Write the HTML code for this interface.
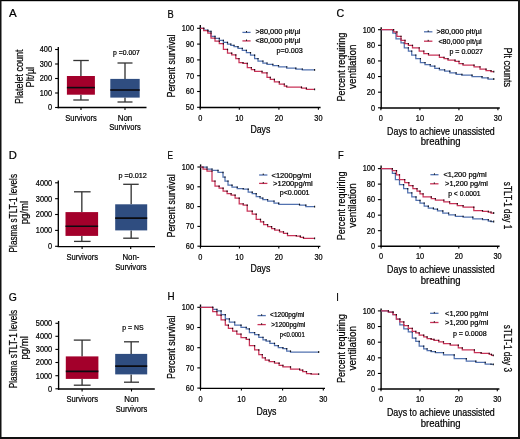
<!DOCTYPE html>
<html><head><meta charset="utf-8"><style>
html,body{margin:0;padding:0;background:#fff;width:520px;height:439px;overflow:hidden}
svg{display:block;font-family:"Liberation Sans",sans-serif}
text{stroke:#000;stroke-width:0.22px}
svg{filter:blur(0.25px)}
</style></head><body>
<svg width="520" height="439" viewBox="0 0 520 439" font-family="Liberation Sans, sans-serif">
<rect x="0" y="0" width="520" height="439" fill="#fff"/>
<text x="8.9" y="16.9" font-size="11.2" textLength="7.7" lengthAdjust="spacingAndGlyphs" fill="#000">A</text>
<text x="167.4" y="17.5" font-size="11.2" textLength="6.2" lengthAdjust="spacingAndGlyphs" fill="#000">B</text>
<text x="336.5" y="17.3" font-size="11.2" textLength="7.7" lengthAdjust="spacingAndGlyphs" fill="#000">C</text>
<text x="8.7" y="158.9" font-size="11.2" textLength="8.1" lengthAdjust="spacingAndGlyphs" fill="#000">D</text>
<text x="167.4" y="159.3" font-size="11.2" textLength="5.5" lengthAdjust="spacingAndGlyphs" fill="#000">E</text>
<text x="337.9" y="158.8" font-size="11.2" textLength="5.7" lengthAdjust="spacingAndGlyphs" fill="#000">F</text>
<text x="8.7" y="300.5" font-size="11.2" textLength="8.1" lengthAdjust="spacingAndGlyphs" fill="#000">G</text>
<text x="167.4" y="300" font-size="11.2" textLength="7.1" lengthAdjust="spacingAndGlyphs" fill="#000">H</text>
<text x="336.2" y="300.5" font-size="11.2" textLength="2.6" lengthAdjust="spacingAndGlyphs" fill="#000">I</text>
<line x1="58.3" y1="47" x2="58.3" y2="108.2" stroke="#000" stroke-width="1.35"/>
<line x1="55.1" y1="49.5" x2="58.3" y2="49.5" stroke="#000" stroke-width="1.1"/>
<text x="52" y="52.32" font-size="8.2" text-anchor="end" textLength="12.3" lengthAdjust="spacingAndGlyphs" fill="#000">400</text>
<line x1="55.1" y1="64" x2="58.3" y2="64" stroke="#000" stroke-width="1.1"/>
<text x="52" y="66.82" font-size="8.2" text-anchor="end" textLength="12.3" lengthAdjust="spacingAndGlyphs" fill="#000">300</text>
<line x1="55.1" y1="78.5" x2="58.3" y2="78.5" stroke="#000" stroke-width="1.1"/>
<text x="52" y="81.32" font-size="8.2" text-anchor="end" textLength="12.3" lengthAdjust="spacingAndGlyphs" fill="#000">200</text>
<line x1="55.1" y1="93" x2="58.3" y2="93" stroke="#000" stroke-width="1.1"/>
<text x="52" y="95.82" font-size="8.2" text-anchor="end" textLength="12.3" lengthAdjust="spacingAndGlyphs" fill="#000">100</text>
<line x1="55.1" y1="107.5" x2="58.3" y2="107.5" stroke="#000" stroke-width="1.1"/>
<text x="52" y="110.32" font-size="8.2" text-anchor="end" textLength="4.1" lengthAdjust="spacingAndGlyphs" fill="#000">0</text>
<line x1="57.6" y1="107.5" x2="146.5" y2="107.5" stroke="#000" stroke-width="1.35"/>
<line x1="81" y1="107.5" x2="81" y2="110" stroke="#000" stroke-width="1.1"/>
<line x1="125" y1="107.5" x2="125" y2="110" stroke="#000" stroke-width="1.1"/>
<line x1="80.9" y1="60.5" x2="80.9" y2="76" stroke="#555" stroke-width="1.6"/>
<line x1="80.9" y1="94.7" x2="80.9" y2="100" stroke="#555" stroke-width="1.6"/>
<line x1="73.3" y1="60.5" x2="88.8" y2="60.5" stroke="#333" stroke-width="1.3"/>
<line x1="73.3" y1="100" x2="88.8" y2="100" stroke="#333" stroke-width="1.3"/>
<rect x="66.9" y="76" width="28" height="18.7" fill="#a3002b"/>
<line x1="66.9" y1="87.6" x2="94.9" y2="87.6" stroke="#0b0b10" stroke-width="1.6"/>
<line x1="125" y1="63" x2="125" y2="78.9" stroke="#555" stroke-width="1.6"/>
<line x1="125" y1="97.6" x2="125" y2="102" stroke="#555" stroke-width="1.6"/>
<line x1="117.5" y1="63" x2="132.5" y2="63" stroke="#333" stroke-width="1.3"/>
<line x1="117.5" y1="102" x2="132.5" y2="102" stroke="#333" stroke-width="1.3"/>
<rect x="110.3" y="78.9" width="29.4" height="18.7" fill="#2f4d80"/>
<line x1="110.3" y1="90" x2="139.7" y2="90" stroke="#0b0b10" stroke-width="1.6"/>
<text x="113.1" y="55.11" font-size="7.3" textLength="26.8" lengthAdjust="spacingAndGlyphs" fill="#000">p =0.007</text>
<text x="81" y="120.6" font-size="8.6" text-anchor="middle" textLength="31.5" lengthAdjust="spacingAndGlyphs" fill="#000">Survivors</text>
<text x="125" y="120.6" font-size="8.6" text-anchor="middle" textLength="14.5" lengthAdjust="spacingAndGlyphs" fill="#000">Non</text>
<text x="125" y="130.2" font-size="8.6" text-anchor="middle" textLength="31.5" lengthAdjust="spacingAndGlyphs" fill="#000">Survivors</text>
<g transform="translate(19.4,76.7) rotate(-90)"><text x="0" y="3.61" font-size="10.5" text-anchor="middle" textLength="54.5" lengthAdjust="spacingAndGlyphs" fill="#000">Platelet count</text></g>
<g transform="translate(30,77.2) rotate(-90)"><text x="0" y="3.61" font-size="10.5" text-anchor="middle" textLength="20.5" lengthAdjust="spacingAndGlyphs" fill="#000">Plt/µl</text></g>
<line x1="58.3" y1="180.6" x2="58.3" y2="247.1" stroke="#000" stroke-width="1.35"/>
<line x1="55.1" y1="182.8" x2="58.3" y2="182.8" stroke="#000" stroke-width="1.1"/>
<text x="52.2" y="185.62" font-size="8.2" text-anchor="end" textLength="16.4" lengthAdjust="spacingAndGlyphs" fill="#000">4000</text>
<line x1="55.1" y1="198.7" x2="58.3" y2="198.7" stroke="#000" stroke-width="1.1"/>
<text x="52.2" y="201.52" font-size="8.2" text-anchor="end" textLength="16.4" lengthAdjust="spacingAndGlyphs" fill="#000">3000</text>
<line x1="55.1" y1="214.5" x2="58.3" y2="214.5" stroke="#000" stroke-width="1.1"/>
<text x="52.2" y="217.32" font-size="8.2" text-anchor="end" textLength="16.4" lengthAdjust="spacingAndGlyphs" fill="#000">2000</text>
<line x1="55.1" y1="230.4" x2="58.3" y2="230.4" stroke="#000" stroke-width="1.1"/>
<text x="52.2" y="233.22" font-size="8.2" text-anchor="end" textLength="16.4" lengthAdjust="spacingAndGlyphs" fill="#000">1000</text>
<line x1="55.1" y1="246.3" x2="58.3" y2="246.3" stroke="#000" stroke-width="1.1"/>
<text x="52.2" y="249.12" font-size="8.2" text-anchor="end" textLength="4.1" lengthAdjust="spacingAndGlyphs" fill="#000">0</text>
<line x1="57.6" y1="246.6" x2="155" y2="246.6" stroke="#000" stroke-width="1.35"/>
<line x1="82.1" y1="246.6" x2="82.1" y2="249.1" stroke="#000" stroke-width="1.1"/>
<line x1="130.7" y1="246.6" x2="130.7" y2="249.1" stroke="#000" stroke-width="1.1"/>
<line x1="81.8" y1="191.8" x2="81.8" y2="212.1" stroke="#555" stroke-width="1.6"/>
<line x1="81.8" y1="235.9" x2="81.8" y2="241.4" stroke="#555" stroke-width="1.6"/>
<line x1="74" y1="191.8" x2="90.6" y2="191.8" stroke="#333" stroke-width="1.3"/>
<line x1="74" y1="241.4" x2="90.6" y2="241.4" stroke="#333" stroke-width="1.3"/>
<rect x="65.5" y="212.1" width="32.6" height="23.8" fill="#a3002b"/>
<line x1="65.5" y1="226.2" x2="98.1" y2="226.2" stroke="#0b0b10" stroke-width="1.6"/>
<line x1="131.2" y1="184.3" x2="131.2" y2="204.3" stroke="#555" stroke-width="1.6"/>
<line x1="131.2" y1="230.4" x2="131.2" y2="238.2" stroke="#555" stroke-width="1.6"/>
<line x1="123.2" y1="184.3" x2="138.7" y2="184.3" stroke="#333" stroke-width="1.3"/>
<line x1="123.2" y1="238.2" x2="138.7" y2="238.2" stroke="#333" stroke-width="1.3"/>
<rect x="115.2" y="204.3" width="32" height="26.1" fill="#2f4d80"/>
<line x1="115.2" y1="218.1" x2="147.2" y2="218.1" stroke="#0b0b10" stroke-width="1.6"/>
<text x="118.5" y="178.01" font-size="7.3" textLength="28.4" lengthAdjust="spacingAndGlyphs" fill="#000">p =0.012</text>
<text x="82.3" y="259.8" font-size="8.6" text-anchor="middle" textLength="31.5" lengthAdjust="spacingAndGlyphs" fill="#000">Survivors</text>
<text x="130.9" y="259.8" font-size="8.6" text-anchor="middle" textLength="17" lengthAdjust="spacingAndGlyphs" fill="#000">Non-</text>
<text x="130.9" y="269.8" font-size="8.6" text-anchor="middle" textLength="31.5" lengthAdjust="spacingAndGlyphs" fill="#000">Survivors</text>
<g transform="translate(13.6,213.2) rotate(-90)"><text x="0" y="3.61" font-size="10.5" text-anchor="middle" textLength="78.5" lengthAdjust="spacingAndGlyphs" fill="#000">Plasma sTLT-1 levels</text></g>
<g transform="translate(24.7,212.6) rotate(-90)"><text x="0" y="3.61" font-size="10.5" text-anchor="middle" textLength="23.3" lengthAdjust="spacingAndGlyphs" fill="#000">pg/ml</text></g>
<line x1="58.6" y1="321" x2="58.6" y2="389.7" stroke="#000" stroke-width="1.35"/>
<line x1="55.4" y1="323.3" x2="58.6" y2="323.3" stroke="#000" stroke-width="1.1"/>
<text x="52.2" y="326.12" font-size="8.2" text-anchor="end" textLength="16.4" lengthAdjust="spacingAndGlyphs" fill="#000">5000</text>
<line x1="55.4" y1="336.3" x2="58.6" y2="336.3" stroke="#000" stroke-width="1.1"/>
<text x="52.2" y="339.12" font-size="8.2" text-anchor="end" textLength="16.4" lengthAdjust="spacingAndGlyphs" fill="#000">4000</text>
<line x1="55.4" y1="349.4" x2="58.6" y2="349.4" stroke="#000" stroke-width="1.1"/>
<text x="52.2" y="352.22" font-size="8.2" text-anchor="end" textLength="16.4" lengthAdjust="spacingAndGlyphs" fill="#000">3000</text>
<line x1="55.4" y1="362.5" x2="58.6" y2="362.5" stroke="#000" stroke-width="1.1"/>
<text x="52.2" y="365.32" font-size="8.2" text-anchor="end" textLength="16.4" lengthAdjust="spacingAndGlyphs" fill="#000">2000</text>
<line x1="55.4" y1="375.7" x2="58.6" y2="375.7" stroke="#000" stroke-width="1.1"/>
<text x="52.2" y="378.52" font-size="8.2" text-anchor="end" textLength="16.4" lengthAdjust="spacingAndGlyphs" fill="#000">1000</text>
<line x1="55.4" y1="388.8" x2="58.6" y2="388.8" stroke="#000" stroke-width="1.1"/>
<text x="52.2" y="391.62" font-size="8.2" text-anchor="end" textLength="4.1" lengthAdjust="spacingAndGlyphs" fill="#000">0</text>
<line x1="57.9" y1="389" x2="154.8" y2="389" stroke="#000" stroke-width="1.35"/>
<line x1="82.1" y1="389" x2="82.1" y2="391.5" stroke="#000" stroke-width="1.1"/>
<line x1="131.5" y1="389" x2="131.5" y2="391.5" stroke="#000" stroke-width="1.1"/>
<line x1="82.1" y1="340.1" x2="82.1" y2="356.4" stroke="#555" stroke-width="1.6"/>
<line x1="82.1" y1="378.9" x2="82.1" y2="385.2" stroke="#555" stroke-width="1.6"/>
<line x1="73.8" y1="340.1" x2="90.6" y2="340.1" stroke="#333" stroke-width="1.3"/>
<line x1="73.8" y1="385.2" x2="90.6" y2="385.2" stroke="#333" stroke-width="1.3"/>
<rect x="65.8" y="356.4" width="32.6" height="22.5" fill="#a3002b"/>
<line x1="65.8" y1="371.4" x2="98.4" y2="371.4" stroke="#0b0b10" stroke-width="1.6"/>
<line x1="131.2" y1="341.8" x2="131.2" y2="353.9" stroke="#555" stroke-width="1.6"/>
<line x1="131.2" y1="374.4" x2="131.2" y2="382.2" stroke="#555" stroke-width="1.6"/>
<line x1="124" y1="341.8" x2="139" y2="341.8" stroke="#333" stroke-width="1.3"/>
<line x1="124" y1="382.2" x2="139" y2="382.2" stroke="#333" stroke-width="1.3"/>
<rect x="115.2" y="353.9" width="32" height="20.5" fill="#2f4d80"/>
<line x1="115.2" y1="366.1" x2="147.2" y2="366.1" stroke="#0b0b10" stroke-width="1.6"/>
<text x="122.3" y="329.81" font-size="7.3" textLength="21.3" lengthAdjust="spacingAndGlyphs" fill="#000">p = NS</text>
<text x="82.3" y="401.8" font-size="8.6" text-anchor="middle" textLength="31.5" lengthAdjust="spacingAndGlyphs" fill="#000">Survivors</text>
<text x="131.5" y="401.8" font-size="8.6" text-anchor="middle" textLength="14.5" lengthAdjust="spacingAndGlyphs" fill="#000">Non</text>
<text x="131.5" y="411.8" font-size="8.6" text-anchor="middle" textLength="31.5" lengthAdjust="spacingAndGlyphs" fill="#000">Survivors</text>
<g transform="translate(13.6,349) rotate(-90)"><text x="0" y="3.61" font-size="10.5" text-anchor="middle" textLength="78.5" lengthAdjust="spacingAndGlyphs" fill="#000">Plasma sTLT-1 levels</text></g>
<g transform="translate(24.7,347.9) rotate(-90)"><text x="0" y="3.61" font-size="10.5" text-anchor="middle" textLength="23.3" lengthAdjust="spacingAndGlyphs" fill="#000">pg/ml</text></g>
<line x1="200.3" y1="25.1" x2="200.3" y2="108.2" stroke="#000" stroke-width="1.35"/>
<line x1="197.1" y1="28.3" x2="200.3" y2="28.3" stroke="#000" stroke-width="1.1"/>
<text x="194" y="31.12" font-size="8.2" text-anchor="end" textLength="12.3" lengthAdjust="spacingAndGlyphs" fill="#000">100</text>
<line x1="197.1" y1="44.1" x2="200.3" y2="44.1" stroke="#000" stroke-width="1.1"/>
<text x="194" y="46.92" font-size="8.2" text-anchor="end" textLength="8.2" lengthAdjust="spacingAndGlyphs" fill="#000">90</text>
<line x1="197.1" y1="59.9" x2="200.3" y2="59.9" stroke="#000" stroke-width="1.1"/>
<text x="194" y="62.72" font-size="8.2" text-anchor="end" textLength="8.2" lengthAdjust="spacingAndGlyphs" fill="#000">80</text>
<line x1="197.1" y1="75.7" x2="200.3" y2="75.7" stroke="#000" stroke-width="1.1"/>
<text x="194" y="78.52" font-size="8.2" text-anchor="end" textLength="8.2" lengthAdjust="spacingAndGlyphs" fill="#000">70</text>
<line x1="197.1" y1="91.5" x2="200.3" y2="91.5" stroke="#000" stroke-width="1.1"/>
<text x="194" y="94.32" font-size="8.2" text-anchor="end" textLength="8.2" lengthAdjust="spacingAndGlyphs" fill="#000">60</text>
<line x1="197.1" y1="107.3" x2="200.3" y2="107.3" stroke="#000" stroke-width="1.1"/>
<text x="194" y="110.12" font-size="8.2" text-anchor="end" textLength="8.2" lengthAdjust="spacingAndGlyphs" fill="#000">50</text>
<line x1="199.6" y1="107.5" x2="320.6" y2="107.5" stroke="#000" stroke-width="1.35"/>
<line x1="200.2" y1="107.5" x2="200.2" y2="109.7" stroke="#000" stroke-width="1.1"/>
<text x="200.2" y="121.12" font-size="8.2" text-anchor="middle" textLength="4.1" lengthAdjust="spacingAndGlyphs" fill="#000">0</text>
<line x1="239.3" y1="107.5" x2="239.3" y2="109.7" stroke="#000" stroke-width="1.1"/>
<text x="239.3" y="121.12" font-size="8.2" text-anchor="middle" textLength="8.2" lengthAdjust="spacingAndGlyphs" fill="#000">10</text>
<line x1="278.9" y1="107.5" x2="278.9" y2="109.7" stroke="#000" stroke-width="1.1"/>
<text x="278.9" y="121.12" font-size="8.2" text-anchor="middle" textLength="8.2" lengthAdjust="spacingAndGlyphs" fill="#000">20</text>
<line x1="318.4" y1="107.5" x2="318.4" y2="109.7" stroke="#000" stroke-width="1.1"/>
<text x="318.4" y="121.12" font-size="8.2" text-anchor="middle" textLength="8.2" lengthAdjust="spacingAndGlyphs" fill="#000">30</text>
<text x="260.4" y="132.8" font-size="10.3" text-anchor="middle" textLength="20" lengthAdjust="spacingAndGlyphs" fill="#000">Days</text>
<g transform="translate(171.7,66) rotate(-90)"><text x="0" y="3.61" font-size="10.5" text-anchor="middle" textLength="63" lengthAdjust="spacingAndGlyphs" fill="#000">Percent survival</text></g>
<path d="M200.5,28.3H203.7V30.2H207.8V31.4H211V36.3H215V38.4H219.3V40.4H223.4V42.4H227.5V44H230.8V45.3H234V46.7H238V48.3H242.3V50.3H246.4V52.7H250.5V55.2H254.6V58.5H258V61H262.9V63H267V64.3H272.8V65.5H278.5V66.8H286.7V68.2H295.8V69H302.3V69.8H314.6" fill="none" stroke="#5272b0" stroke-width="1.25" stroke-linejoin="miter"/>
<path d="M203.7,27.7v1.4M207.8,29.6v1.4M211,30.8v1.4M215,35.7v1.4M219.3,37.8v1.4M223.4,39.8v1.4M227.5,41.8v1.4M230.8,43.4v1.4M234,44.7v1.4M238,46.1v1.4M242.3,47.7v1.4M246.4,49.7v1.4M250.5,52.1v1.4M254.6,54.6v1.4M258,57.9v1.4M262.9,60.4v1.4M267,62.4v1.4M272.8,63.7v1.4M278.5,64.9v1.4M286.7,66.2v1.4M295.8,67.6v1.4M302.3,68.4v1.4M314.6,68.9v1.8" stroke="#111" stroke-width="1.1" fill="none"/>
<path d="M200.5,28.3H203.7V30.6H207.8V33H211V38H215V41.2H219.3V43.7H223.4V49.4H227.5V53.2H231.7V54.9H235.8V58.5H239V62.6H243V63.4H247.3V67.5H251.4V69.6H254.6V71.4H262V72.8H267V77.4H270.3V79.4H274.4V81.9H279.3V84H284.3V86H286.7V87.2H301.5V88.1H306.4V89.4H314.6" fill="none" stroke="#c93358" stroke-width="1.25" stroke-linejoin="miter"/>
<path d="M203.7,27.7v1.4M207.8,30v1.4M211,32.4v1.4M215,37.4v1.4M219.3,40.6v1.4M223.4,43.1v1.4M227.5,48.8v1.4M231.7,52.6v1.4M235.8,54.3v1.4M239,57.9v1.4M243,62v1.4M247.3,62.8v1.4M251.4,66.9v1.4M254.6,69v1.4M262,70.8v1.4M267,72.2v1.4M270.3,76.8v1.4M274.4,78.8v1.4M279.3,81.3v1.4M284.3,83.4v1.4M286.7,85.4v1.4M301.5,86.6v1.4M306.4,87.5v1.4M314.6,88.5v1.8" stroke="#111" stroke-width="1.1" fill="none"/>
<line x1="242.4" y1="32.4" x2="250.6" y2="32.4" stroke="#5272b0" stroke-width="1.3"/>
<line x1="246.5" y1="31" x2="246.5" y2="32.4" stroke="#000" stroke-width="0.9"/>
<line x1="242.4" y1="40.9" x2="250.6" y2="40.9" stroke="#c93358" stroke-width="1.3"/>
<line x1="246.5" y1="39.5" x2="246.5" y2="40.9" stroke="#000" stroke-width="0.9"/>
<text x="255.5" y="34.31" font-size="7" textLength="44.8" lengthAdjust="spacingAndGlyphs" fill="#000">&gt;80,000 plt/µl</text>
<text x="255.5" y="43.01" font-size="7" textLength="44.8" lengthAdjust="spacingAndGlyphs" fill="#000">&lt;80,000 plt/µl</text>
<text x="276.6" y="53.11" font-size="7.3" textLength="26.3" lengthAdjust="spacingAndGlyphs" fill="#000">p=0.003</text>
<line x1="200.6" y1="164.4" x2="200.6" y2="247" stroke="#000" stroke-width="1.35"/>
<line x1="197.4" y1="167" x2="200.6" y2="167" stroke="#000" stroke-width="1.1"/>
<text x="194" y="169.82" font-size="8.2" text-anchor="end" textLength="12.3" lengthAdjust="spacingAndGlyphs" fill="#000">100</text>
<line x1="197.4" y1="186.8" x2="200.6" y2="186.8" stroke="#000" stroke-width="1.1"/>
<text x="194" y="189.62" font-size="8.2" text-anchor="end" textLength="8.2" lengthAdjust="spacingAndGlyphs" fill="#000">90</text>
<line x1="197.4" y1="206.6" x2="200.6" y2="206.6" stroke="#000" stroke-width="1.1"/>
<text x="194" y="209.42" font-size="8.2" text-anchor="end" textLength="8.2" lengthAdjust="spacingAndGlyphs" fill="#000">80</text>
<line x1="197.4" y1="226.4" x2="200.6" y2="226.4" stroke="#000" stroke-width="1.1"/>
<text x="194" y="229.22" font-size="8.2" text-anchor="end" textLength="8.2" lengthAdjust="spacingAndGlyphs" fill="#000">70</text>
<line x1="197.4" y1="246.2" x2="200.6" y2="246.2" stroke="#000" stroke-width="1.1"/>
<text x="194" y="249.02" font-size="8.2" text-anchor="end" textLength="8.2" lengthAdjust="spacingAndGlyphs" fill="#000">60</text>
<line x1="199.9" y1="246.3" x2="320.4" y2="246.3" stroke="#000" stroke-width="1.35"/>
<line x1="200.4" y1="246.3" x2="200.4" y2="248.5" stroke="#000" stroke-width="1.1"/>
<text x="200.4" y="260.12" font-size="8.2" text-anchor="middle" textLength="4.1" lengthAdjust="spacingAndGlyphs" fill="#000">0</text>
<line x1="239.4" y1="246.3" x2="239.4" y2="248.5" stroke="#000" stroke-width="1.1"/>
<text x="239.4" y="260.12" font-size="8.2" text-anchor="middle" textLength="8.2" lengthAdjust="spacingAndGlyphs" fill="#000">10</text>
<line x1="278.8" y1="246.3" x2="278.8" y2="248.5" stroke="#000" stroke-width="1.1"/>
<text x="278.8" y="260.12" font-size="8.2" text-anchor="middle" textLength="8.2" lengthAdjust="spacingAndGlyphs" fill="#000">20</text>
<line x1="318.5" y1="246.3" x2="318.5" y2="248.5" stroke="#000" stroke-width="1.1"/>
<text x="318.5" y="260.12" font-size="8.2" text-anchor="middle" textLength="8.2" lengthAdjust="spacingAndGlyphs" fill="#000">30</text>
<text x="260.4" y="272.3" font-size="10.3" text-anchor="middle" textLength="20" lengthAdjust="spacingAndGlyphs" fill="#000">Days</text>
<g transform="translate(171.7,205.9) rotate(-90)"><text x="0" y="3.61" font-size="10.5" text-anchor="middle" textLength="63.2" lengthAdjust="spacingAndGlyphs" fill="#000">Percent survival</text></g>
<path d="M200.6,167H207V169H212V170.4H218V172.4H223V177H225V181H228V185.1H232V187.1H237.2V188.5H243.2V189.1H248.2V192.1H252.2V193.7H256.2V196.5H260V198H262.8V199.5H267.6V201H274V203.1H278.7V204.4H299.5V205.2H305.8V206.6H314.6" fill="none" stroke="#5272b0" stroke-width="1.25" stroke-linejoin="miter"/>
<path d="M207,166.4v1.4M212,168.4v1.4M218,169.8v1.4M223,171.8v1.4M225,176.4v1.4M228,180.4v1.4M232,184.5v1.4M237.2,186.5v1.4M243.2,187.9v1.4M248.2,188.5v1.4M252.2,191.5v1.4M256.2,193.1v1.4M260,195.9v1.4M262.8,197.4v1.4M267.6,198.9v1.4M274,200.4v1.4M278.7,202.5v1.4M299.5,203.8v1.4M305.8,204.6v1.4M314.6,205.7v1.8" stroke="#111" stroke-width="1.1" fill="none"/>
<path d="M200.6,167H203V169H207V171H212V181H215V186.1H219.1V188.1H223.1V191.1H227.1V193.7H231.1V195.1H235.1V198.1H239.2V203.8H243.2V205.2H247.2V211.2H252.2V214.2H256.2V219.4H260.5V221.8H263.6V224.7H267.6V226.6H271.6V228.6H274.7V230.2H279.5V231.8H283.5V233.4H287.5V235.5H296.3V236.1H300.3V237.4H303.5V238.3H314.6" fill="none" stroke="#c93358" stroke-width="1.25" stroke-linejoin="miter"/>
<path d="M203,166.4v1.4M207,168.4v1.4M212,170.4v1.4M215,180.4v1.4M219.1,185.5v1.4M223.1,187.5v1.4M227.1,190.5v1.4M231.1,193.1v1.4M235.1,194.5v1.4M239.2,197.5v1.4M243.2,203.2v1.4M247.2,204.6v1.4M252.2,210.6v1.4M256.2,213.6v1.4M260.5,218.8v1.4M263.6,221.2v1.4M267.6,224.1v1.4M271.6,226v1.4M274.7,228v1.4M279.5,229.6v1.4M283.5,231.2v1.4M287.5,232.8v1.4M296.3,234.9v1.4M300.3,235.5v1.4M303.5,236.8v1.4M314.6,237.4v1.8" stroke="#111" stroke-width="1.1" fill="none"/>
<line x1="259.1" y1="175" x2="267.4" y2="175" stroke="#5272b0" stroke-width="1.3"/>
<line x1="263.25" y1="173.6" x2="263.25" y2="175" stroke="#000" stroke-width="0.9"/>
<line x1="259.1" y1="183.4" x2="267.4" y2="183.4" stroke="#c93358" stroke-width="1.3"/>
<line x1="263.25" y1="182" x2="263.25" y2="183.4" stroke="#000" stroke-width="0.9"/>
<text x="271.5" y="177.88" font-size="7.2" textLength="39.7" lengthAdjust="spacingAndGlyphs" fill="#000">&lt;1200pg/ml</text>
<text x="273.1" y="186.08" font-size="7.2" textLength="39.6" lengthAdjust="spacingAndGlyphs" fill="#000">&gt;1200pg/ml</text>
<text x="279.7" y="194.98" font-size="7.2" textLength="29.9" lengthAdjust="spacingAndGlyphs" fill="#000">p&lt;0.0001</text>
<line x1="200.5" y1="304.5" x2="200.5" y2="389.1" stroke="#000" stroke-width="1.35"/>
<line x1="197.3" y1="307.3" x2="200.5" y2="307.3" stroke="#000" stroke-width="1.1"/>
<text x="194" y="310.12" font-size="8.2" text-anchor="end" textLength="12.3" lengthAdjust="spacingAndGlyphs" fill="#000">100</text>
<line x1="197.3" y1="327.5" x2="200.5" y2="327.5" stroke="#000" stroke-width="1.1"/>
<text x="194" y="330.32" font-size="8.2" text-anchor="end" textLength="8.2" lengthAdjust="spacingAndGlyphs" fill="#000">90</text>
<line x1="197.3" y1="347.7" x2="200.5" y2="347.7" stroke="#000" stroke-width="1.1"/>
<text x="194" y="350.52" font-size="8.2" text-anchor="end" textLength="8.2" lengthAdjust="spacingAndGlyphs" fill="#000">80</text>
<line x1="197.3" y1="367.9" x2="200.5" y2="367.9" stroke="#000" stroke-width="1.1"/>
<text x="194" y="370.72" font-size="8.2" text-anchor="end" textLength="8.2" lengthAdjust="spacingAndGlyphs" fill="#000">70</text>
<line x1="197.3" y1="388.1" x2="200.5" y2="388.1" stroke="#000" stroke-width="1.1"/>
<text x="194" y="390.92" font-size="8.2" text-anchor="end" textLength="8.2" lengthAdjust="spacingAndGlyphs" fill="#000">60</text>
<line x1="199.8" y1="388.4" x2="325" y2="388.4" stroke="#000" stroke-width="1.35"/>
<line x1="200.5" y1="388.4" x2="200.5" y2="390.6" stroke="#000" stroke-width="1.1"/>
<text x="200.5" y="401.82" font-size="8.2" text-anchor="middle" textLength="4.1" lengthAdjust="spacingAndGlyphs" fill="#000">0</text>
<line x1="241.4" y1="388.4" x2="241.4" y2="390.6" stroke="#000" stroke-width="1.1"/>
<text x="241.4" y="401.82" font-size="8.2" text-anchor="middle" textLength="8.2" lengthAdjust="spacingAndGlyphs" fill="#000">10</text>
<line x1="282.6" y1="388.4" x2="282.6" y2="390.6" stroke="#000" stroke-width="1.1"/>
<text x="282.6" y="401.82" font-size="8.2" text-anchor="middle" textLength="8.2" lengthAdjust="spacingAndGlyphs" fill="#000">20</text>
<line x1="323.3" y1="388.4" x2="323.3" y2="390.6" stroke="#000" stroke-width="1.1"/>
<text x="323.3" y="401.82" font-size="8.2" text-anchor="middle" textLength="8.2" lengthAdjust="spacingAndGlyphs" fill="#000">30</text>
<text x="266.5" y="415" font-size="10.3" text-anchor="middle" textLength="20" lengthAdjust="spacingAndGlyphs" fill="#000">Days</text>
<g transform="translate(171.7,347.2) rotate(-90)"><text x="0" y="3.61" font-size="10.5" text-anchor="middle" textLength="63.5" lengthAdjust="spacingAndGlyphs" fill="#000">Percent survival</text></g>
<path d="M200.5,307.3H212.7V309.4H216.9V310.9H221.1V314.7H225.3V318.9H229.4V322H234.7V325.2H241V327.3H246.2V328.9H249.4V332.5H254.6V334.6H258.8V337.3H263V339.8H266.1V341H269.9V343.3H274.5V345.6H278.3V347.6H282.9V348.6H286.7V351.2H290.5V352H318.7" fill="none" stroke="#5272b0" stroke-width="1.25" stroke-linejoin="miter"/>
<path d="M212.7,306.7v1.4M216.9,308.8v1.4M221.1,310.3v1.4M225.3,314.1v1.4M229.4,318.3v1.4M234.7,321.4v1.4M241,324.6v1.4M246.2,326.7v1.4M249.4,328.3v1.4M254.6,331.9v1.4M258.8,334v1.4M263,336.7v1.4M266.1,339.2v1.4M269.9,340.4v1.4M274.5,342.7v1.4M278.3,345v1.4M282.9,347v1.4M286.7,348v1.4M290.5,350.6v1.4M318.7,351.1v1.8" stroke="#111" stroke-width="1.1" fill="none"/>
<path d="M200.5,307.3H212.7V311.5H216.9V315.1H221.1V319.9H225.3V325.2H228.4V328.3H232.6V331H236.8V334H241V337.7H246.2V339.4H249.4V345.7H254.6V349.9H258.8V354.5H262.3V357.8H265.3V360.1H269.1V361.6H274.5V363.1H279.1V365.4H282.9V366.9H290.5V369.2H299.6V370H302.7V371.5H306.5V373.5H311.1V374.2H318.7" fill="none" stroke="#c93358" stroke-width="1.25" stroke-linejoin="miter"/>
<path d="M212.7,306.7v1.4M216.9,310.9v1.4M221.1,314.5v1.4M225.3,319.3v1.4M228.4,324.6v1.4M232.6,327.7v1.4M236.8,330.4v1.4M241,333.4v1.4M246.2,337.1v1.4M249.4,338.8v1.4M254.6,345.1v1.4M258.8,349.3v1.4M262.3,353.9v1.4M265.3,357.2v1.4M269.1,359.5v1.4M274.5,361v1.4M279.1,362.5v1.4M282.9,364.8v1.4M290.5,366.3v1.4M299.6,368.6v1.4M302.7,369.4v1.4M306.5,370.9v1.4M311.1,372.9v1.4M318.7,373.3v1.8" stroke="#111" stroke-width="1.1" fill="none"/>
<line x1="257.5" y1="315.6" x2="265.8" y2="315.6" stroke="#5272b0" stroke-width="1.3"/>
<line x1="261.65" y1="314.2" x2="261.65" y2="315.6" stroke="#000" stroke-width="0.9"/>
<line x1="257.5" y1="324.6" x2="265.8" y2="324.6" stroke="#c93358" stroke-width="1.3"/>
<line x1="261.65" y1="323.2" x2="261.65" y2="324.6" stroke="#000" stroke-width="0.9"/>
<text x="270.1" y="317.47" font-size="6.6" textLength="34.2" lengthAdjust="spacingAndGlyphs" fill="#000">&lt;1200pg/ml</text>
<text x="271.3" y="326.77" font-size="6.6" textLength="34" lengthAdjust="spacingAndGlyphs" fill="#000">&gt;1200pg/ml</text>
<text x="279.7" y="336.57" font-size="6.6" textLength="25" lengthAdjust="spacingAndGlyphs" fill="#000">p&lt;0.0001</text>
<line x1="381.2" y1="27.3" x2="381.2" y2="108.7" stroke="#000" stroke-width="1.35"/>
<line x1="378" y1="29.7" x2="381.2" y2="29.7" stroke="#000" stroke-width="1.1"/>
<text x="375" y="32.52" font-size="8.2" text-anchor="end" textLength="12.3" lengthAdjust="spacingAndGlyphs" fill="#000">100</text>
<line x1="378" y1="45.32" x2="381.2" y2="45.32" stroke="#000" stroke-width="1.1"/>
<text x="375" y="48.14" font-size="8.2" text-anchor="end" textLength="8.2" lengthAdjust="spacingAndGlyphs" fill="#000">80</text>
<line x1="378" y1="60.94" x2="381.2" y2="60.94" stroke="#000" stroke-width="1.1"/>
<text x="375" y="63.76" font-size="8.2" text-anchor="end" textLength="8.2" lengthAdjust="spacingAndGlyphs" fill="#000">60</text>
<line x1="378" y1="76.56" x2="381.2" y2="76.56" stroke="#000" stroke-width="1.1"/>
<text x="375" y="79.38" font-size="8.2" text-anchor="end" textLength="8.2" lengthAdjust="spacingAndGlyphs" fill="#000">40</text>
<line x1="378" y1="92.18" x2="381.2" y2="92.18" stroke="#000" stroke-width="1.1"/>
<text x="375" y="95" font-size="8.2" text-anchor="end" textLength="8.2" lengthAdjust="spacingAndGlyphs" fill="#000">20</text>
<line x1="378" y1="107.8" x2="381.2" y2="107.8" stroke="#000" stroke-width="1.1"/>
<text x="375" y="110.62" font-size="8.2" text-anchor="end" textLength="4.1" lengthAdjust="spacingAndGlyphs" fill="#000">0</text>
<line x1="380.5" y1="108" x2="499.8" y2="108" stroke="#000" stroke-width="1.35"/>
<line x1="380.9" y1="108" x2="380.9" y2="110.2" stroke="#000" stroke-width="1.1"/>
<text x="380.9" y="120.72" font-size="8.2" text-anchor="middle" textLength="4.1" lengthAdjust="spacingAndGlyphs" fill="#000">0</text>
<line x1="419.9" y1="108" x2="419.9" y2="110.2" stroke="#000" stroke-width="1.1"/>
<text x="419.9" y="120.72" font-size="8.2" text-anchor="middle" textLength="8.2" lengthAdjust="spacingAndGlyphs" fill="#000">10</text>
<line x1="458.9" y1="108" x2="458.9" y2="110.2" stroke="#000" stroke-width="1.1"/>
<text x="458.9" y="120.72" font-size="8.2" text-anchor="middle" textLength="8.2" lengthAdjust="spacingAndGlyphs" fill="#000">20</text>
<line x1="497.9" y1="108" x2="497.9" y2="110.2" stroke="#000" stroke-width="1.1"/>
<text x="497.9" y="120.72" font-size="8.2" text-anchor="middle" textLength="8.2" lengthAdjust="spacingAndGlyphs" fill="#000">30</text>
<text x="387.1" y="134.6" font-size="10.3" textLength="107.7" lengthAdjust="spacingAndGlyphs" fill="#000">Days to achieve unassisted</text>
<text x="420.8" y="145.4" font-size="10.3" textLength="39.8" lengthAdjust="spacingAndGlyphs" fill="#000">breathing</text>
<g transform="translate(341.7,67.1) rotate(-90)"><text x="0" y="3.61" font-size="10.5" text-anchor="middle" textLength="68.8" lengthAdjust="spacingAndGlyphs" fill="#000">Percent requiring</text></g>
<g transform="translate(352.7,66.7) rotate(-90)"><text x="0" y="3.61" font-size="10.5" text-anchor="middle" textLength="44.5" lengthAdjust="spacingAndGlyphs" fill="#000">ventilation</text></g>
<g transform="translate(507.7,67.3) rotate(90)"><text x="0" y="3.61" font-size="10.5" text-anchor="middle" textLength="39.6" lengthAdjust="spacingAndGlyphs" fill="#000">Plt counts</text></g>
<path d="M381.3,29.7H392.8V33H396V38.8H401V42.9H404.3V47.8H408.4V51H411.7V55H415.8V58.5H420.4V62.5H425V64.5H430.2V66H434.8V68.3H439.4V69.8H444.6V71.1H449.8V72.9H456.1V74.4H461.9V75.2H472V76.6H482V77.8H488V79H493.8" fill="none" stroke="#5272b0" stroke-width="1.25" stroke-linejoin="miter"/>
<path d="M392.8,29.1v1.4M396,32.4v1.4M401,38.2v1.4M404.3,42.3v1.4M408.4,47.2v1.4M411.7,50.4v1.4M415.8,54.4v1.4M420.4,57.9v1.4M425,61.9v1.4M430.2,63.9v1.4M434.8,65.4v1.4M439.4,67.7v1.4M444.6,69.2v1.4M449.8,70.5v1.4M456.1,72.3v1.4M461.9,73.8v1.4M472,74.6v1.4M482,76v1.4M488,77.2v1.4M493.8,78.1v1.8" stroke="#111" stroke-width="1.1" fill="none"/>
<path d="M381.3,29.7H393.6V31.9H396.9V36.3H401V40.4H405V43.7H408.4V45.3H412.5V47.8H419.2V51H423.8V53.6H428.5V55H439.4V57.3H444V58.7H448V60.2H455V61.3H459V63.6H463V65.2H474V66.8H480V69.2H486V70.6H491V71.6H493.8" fill="none" stroke="#c93358" stroke-width="1.25" stroke-linejoin="miter"/>
<path d="M393.6,29.1v1.4M396.9,31.3v1.4M401,35.7v1.4M405,39.8v1.4M408.4,43.1v1.4M412.5,44.7v1.4M419.2,47.2v1.4M423.8,50.4v1.4M428.5,53v1.4M439.4,54.4v1.4M444,56.7v1.4M448,58.1v1.4M455,59.6v1.4M459,60.7v1.4M463,63v1.4M474,64.6v1.4M480,66.2v1.4M486,68.6v1.4M491,70v1.4M493.8,70.7v1.8" stroke="#111" stroke-width="1.1" fill="none"/>
<line x1="424" y1="31.8" x2="432.4" y2="31.8" stroke="#5272b0" stroke-width="1.3"/>
<line x1="428.2" y1="30.4" x2="428.2" y2="31.8" stroke="#000" stroke-width="0.9"/>
<line x1="424" y1="41.2" x2="432.4" y2="41.2" stroke="#c93358" stroke-width="1.3"/>
<line x1="428.2" y1="39.8" x2="428.2" y2="41.2" stroke="#000" stroke-width="0.9"/>
<text x="436.4" y="34.01" font-size="7" textLength="45.2" lengthAdjust="spacingAndGlyphs" fill="#000">&gt;80,000 plt/µl</text>
<text x="438.4" y="43.51" font-size="7" textLength="43.2" lengthAdjust="spacingAndGlyphs" fill="#000">&lt;80,000 plt/µl</text>
<text x="449.5" y="53.71" font-size="7.3" textLength="33.5" lengthAdjust="spacingAndGlyphs" fill="#000">p = 0.0027</text>
<line x1="381.1" y1="165.6" x2="381.1" y2="246.9" stroke="#000" stroke-width="1.35"/>
<line x1="377.9" y1="168.6" x2="381.1" y2="168.6" stroke="#000" stroke-width="1.1"/>
<text x="375" y="171.42" font-size="8.2" text-anchor="end" textLength="12.3" lengthAdjust="spacingAndGlyphs" fill="#000">100</text>
<line x1="377.9" y1="184.12" x2="381.1" y2="184.12" stroke="#000" stroke-width="1.1"/>
<text x="375" y="186.94" font-size="8.2" text-anchor="end" textLength="8.2" lengthAdjust="spacingAndGlyphs" fill="#000">80</text>
<line x1="377.9" y1="199.64" x2="381.1" y2="199.64" stroke="#000" stroke-width="1.1"/>
<text x="375" y="202.46" font-size="8.2" text-anchor="end" textLength="8.2" lengthAdjust="spacingAndGlyphs" fill="#000">60</text>
<line x1="377.9" y1="215.16" x2="381.1" y2="215.16" stroke="#000" stroke-width="1.1"/>
<text x="375" y="217.98" font-size="8.2" text-anchor="end" textLength="8.2" lengthAdjust="spacingAndGlyphs" fill="#000">40</text>
<line x1="377.9" y1="230.68" x2="381.1" y2="230.68" stroke="#000" stroke-width="1.1"/>
<text x="375" y="233.5" font-size="8.2" text-anchor="end" textLength="8.2" lengthAdjust="spacingAndGlyphs" fill="#000">20</text>
<line x1="377.9" y1="246.2" x2="381.1" y2="246.2" stroke="#000" stroke-width="1.1"/>
<text x="375" y="249.02" font-size="8.2" text-anchor="end" textLength="4.1" lengthAdjust="spacingAndGlyphs" fill="#000">0</text>
<line x1="380.4" y1="246.2" x2="499.6" y2="246.2" stroke="#000" stroke-width="1.35"/>
<line x1="381.1" y1="246.2" x2="381.1" y2="248.4" stroke="#000" stroke-width="1.1"/>
<text x="381.1" y="259.42" font-size="8.2" text-anchor="middle" textLength="4.1" lengthAdjust="spacingAndGlyphs" fill="#000">0</text>
<line x1="420" y1="246.2" x2="420" y2="248.4" stroke="#000" stroke-width="1.1"/>
<text x="420" y="259.42" font-size="8.2" text-anchor="middle" textLength="8.2" lengthAdjust="spacingAndGlyphs" fill="#000">10</text>
<line x1="458.8" y1="246.2" x2="458.8" y2="248.4" stroke="#000" stroke-width="1.1"/>
<text x="458.8" y="259.42" font-size="8.2" text-anchor="middle" textLength="8.2" lengthAdjust="spacingAndGlyphs" fill="#000">20</text>
<line x1="497.6" y1="246.2" x2="497.6" y2="248.4" stroke="#000" stroke-width="1.1"/>
<text x="497.6" y="259.42" font-size="8.2" text-anchor="middle" textLength="8.2" lengthAdjust="spacingAndGlyphs" fill="#000">30</text>
<text x="387.1" y="273.1" font-size="10.3" textLength="107.7" lengthAdjust="spacingAndGlyphs" fill="#000">Days to achieve unassisted</text>
<text x="420.8" y="284.1" font-size="10.3" textLength="39.8" lengthAdjust="spacingAndGlyphs" fill="#000">breathing</text>
<g transform="translate(341.7,205.8) rotate(-90)"><text x="0" y="3.61" font-size="10.5" text-anchor="middle" textLength="68.8" lengthAdjust="spacingAndGlyphs" fill="#000">Percent requiring</text></g>
<g transform="translate(352.7,205.4) rotate(-90)"><text x="0" y="3.61" font-size="10.5" text-anchor="middle" textLength="44.5" lengthAdjust="spacingAndGlyphs" fill="#000">ventilation</text></g>
<g transform="translate(507.6,205.5) rotate(90)"><text x="0" y="3.61" font-size="10.5" text-anchor="middle" textLength="47.4" lengthAdjust="spacingAndGlyphs" fill="#000">sTLT-1 day 1</text></g>
<path d="M381.1,168.6H392.4V173.3H395.4V179.5H399.5V184.6H403.6V188.7H407.7V192.8H411.8V196.9H416V200.4H420V203H424.2V206.2H428.3V208.2H433.4V209.2H437.5V210.9H442.8V213H448.6V214.9H455.4V216.3H463.1V217.2H472.8V218.8H482.5V219.7H488.3V221.1H491V221.5H493.7" fill="none" stroke="#5272b0" stroke-width="1.25" stroke-linejoin="miter"/>
<path d="M392.4,168v1.4M395.4,172.7v1.4M399.5,178.9v1.4M403.6,184v1.4M407.7,188.1v1.4M411.8,192.2v1.4M416,196.3v1.4M420,199.8v1.4M424.2,202.4v1.4M428.3,205.6v1.4M433.4,207.6v1.4M437.5,208.6v1.4M442.8,210.3v1.4M448.6,212.4v1.4M455.4,214.3v1.4M463.1,215.7v1.4M472.8,216.6v1.4M482.5,218.2v1.4M488.3,219.1v1.4M491,220.5v1.4M493.7,220.6v1.8" stroke="#111" stroke-width="1.1" fill="none"/>
<path d="M381.1,168.6H392.4V170.7H396.5V174.8H399.5V179.5H404.7V182.6H408.8V185.6H412.9V188.7H417V191.2H420V193.8H423.1V196.9H431.3V198.6H435.4V200H443.8V201.8H449.6V203.7H457.3V205.6H463.1V207.2H473.8V210.5H482.5V211.4H488.3V212H491V213H493.7" fill="none" stroke="#c93358" stroke-width="1.25" stroke-linejoin="miter"/>
<path d="M392.4,168v1.4M396.5,170.1v1.4M399.5,174.2v1.4M404.7,178.9v1.4M408.8,182v1.4M412.9,185v1.4M417,188.1v1.4M420,190.6v1.4M423.1,193.2v1.4M431.3,196.3v1.4M435.4,198v1.4M443.8,199.4v1.4M449.6,201.2v1.4M457.3,203.1v1.4M463.1,205v1.4M473.8,206.6v1.4M482.5,209.9v1.4M488.3,210.8v1.4M491,211.4v1.4M493.7,212.1v1.8" stroke="#111" stroke-width="1.1" fill="none"/>
<line x1="430.4" y1="174.7" x2="438.5" y2="174.7" stroke="#5272b0" stroke-width="1.3"/>
<line x1="434.45" y1="173.3" x2="434.45" y2="174.7" stroke="#000" stroke-width="0.9"/>
<line x1="430.1" y1="183.8" x2="438.5" y2="183.8" stroke="#c93358" stroke-width="1.3"/>
<line x1="434.3" y1="182.4" x2="434.3" y2="183.8" stroke="#000" stroke-width="0.9"/>
<text x="443.4" y="177.18" font-size="7.2" textLength="43.2" lengthAdjust="spacingAndGlyphs" fill="#000">&lt;1,200 pg/ml</text>
<text x="445.1" y="186.08" font-size="7.2" textLength="42.9" lengthAdjust="spacingAndGlyphs" fill="#000">&gt;1,200 pg/ml</text>
<text x="448.2" y="195.91" font-size="7.3" textLength="32.4" lengthAdjust="spacingAndGlyphs" fill="#000">p &lt; 0.0001</text>
<line x1="381.1" y1="308.5" x2="381.1" y2="389.7" stroke="#000" stroke-width="1.35"/>
<line x1="377.9" y1="310.9" x2="381.1" y2="310.9" stroke="#000" stroke-width="1.1"/>
<text x="375" y="313.72" font-size="8.2" text-anchor="end" textLength="12.3" lengthAdjust="spacingAndGlyphs" fill="#000">100</text>
<line x1="377.9" y1="326.54" x2="381.1" y2="326.54" stroke="#000" stroke-width="1.1"/>
<text x="375" y="329.36" font-size="8.2" text-anchor="end" textLength="8.2" lengthAdjust="spacingAndGlyphs" fill="#000">80</text>
<line x1="377.9" y1="342.18" x2="381.1" y2="342.18" stroke="#000" stroke-width="1.1"/>
<text x="375" y="345" font-size="8.2" text-anchor="end" textLength="8.2" lengthAdjust="spacingAndGlyphs" fill="#000">60</text>
<line x1="377.9" y1="357.82" x2="381.1" y2="357.82" stroke="#000" stroke-width="1.1"/>
<text x="375" y="360.64" font-size="8.2" text-anchor="end" textLength="8.2" lengthAdjust="spacingAndGlyphs" fill="#000">40</text>
<line x1="377.9" y1="373.46" x2="381.1" y2="373.46" stroke="#000" stroke-width="1.1"/>
<text x="375" y="376.28" font-size="8.2" text-anchor="end" textLength="8.2" lengthAdjust="spacingAndGlyphs" fill="#000">20</text>
<line x1="377.9" y1="389.1" x2="381.1" y2="389.1" stroke="#000" stroke-width="1.1"/>
<text x="375" y="391.92" font-size="8.2" text-anchor="end" textLength="4.1" lengthAdjust="spacingAndGlyphs" fill="#000">0</text>
<line x1="380.4" y1="389" x2="499.4" y2="389" stroke="#000" stroke-width="1.35"/>
<line x1="381" y1="389" x2="381" y2="391.2" stroke="#000" stroke-width="1.1"/>
<text x="381" y="401.92" font-size="8.2" text-anchor="middle" textLength="4.1" lengthAdjust="spacingAndGlyphs" fill="#000">0</text>
<line x1="420" y1="389" x2="420" y2="391.2" stroke="#000" stroke-width="1.1"/>
<text x="420" y="401.92" font-size="8.2" text-anchor="middle" textLength="8.2" lengthAdjust="spacingAndGlyphs" fill="#000">10</text>
<line x1="458.8" y1="389" x2="458.8" y2="391.2" stroke="#000" stroke-width="1.1"/>
<text x="458.8" y="401.92" font-size="8.2" text-anchor="middle" textLength="8.2" lengthAdjust="spacingAndGlyphs" fill="#000">20</text>
<line x1="497.3" y1="389" x2="497.3" y2="391.2" stroke="#000" stroke-width="1.1"/>
<text x="497.3" y="401.92" font-size="8.2" text-anchor="middle" textLength="8.2" lengthAdjust="spacingAndGlyphs" fill="#000">30</text>
<text x="386.9" y="415.6" font-size="10.3" textLength="107.9" lengthAdjust="spacingAndGlyphs" fill="#000">Days to achieve unassisted</text>
<text x="420.8" y="426.6" font-size="10.3" textLength="39.8" lengthAdjust="spacingAndGlyphs" fill="#000">breathing</text>
<g transform="translate(341.7,348.7) rotate(-90)"><text x="0" y="3.61" font-size="10.5" text-anchor="middle" textLength="68.8" lengthAdjust="spacingAndGlyphs" fill="#000">Percent requiring</text></g>
<g transform="translate(352.7,348.3) rotate(-90)"><text x="0" y="3.61" font-size="10.5" text-anchor="middle" textLength="44.5" lengthAdjust="spacingAndGlyphs" fill="#000">ventilation</text></g>
<g transform="translate(507.6,348.3) rotate(90)"><text x="0" y="3.61" font-size="10.5" text-anchor="middle" textLength="47.3" lengthAdjust="spacingAndGlyphs" fill="#000">sTLT-1 day 3</text></g>
<path d="M381.1,310.9H388.4V312.1H393V314.7H396.4V319.2H399.8V324.9H403.8V328.9H408.3V331.8H412.3V338H415.8V341.4H419.2V346H423.7V348.8H427.1V350.6H431.1V351.7H435.4V352.6H443.5V354.9H454.2V358.6H466.3V361.1H475.8V362.4H485.2V364H491V364.3H493.3" fill="none" stroke="#5272b0" stroke-width="1.25" stroke-linejoin="miter"/>
<path d="M388.4,310.3v1.4M393,311.5v1.4M396.4,314.1v1.4M399.8,318.6v1.4M403.8,324.3v1.4M408.3,328.3v1.4M412.3,331.2v1.4M415.8,337.4v1.4M419.2,340.8v1.4M423.7,345.4v1.4M427.1,348.2v1.4M431.1,350v1.4M435.4,351.1v1.4M443.5,352v1.4M454.2,354.3v1.4M466.3,358v1.4M475.8,360.5v1.4M485.2,361.8v1.4M491,363.4v1.4M493.3,363.4v1.8" stroke="#111" stroke-width="1.1" fill="none"/>
<path d="M381.1,310.9H388.4V312.1H393V314.7H396.4V319.2H399.8V321.9H403.8V325.5H408.3V328.3H412.3V331.4H415.8V332.9H419.2V335.2H423.7V336.9H427.1V338.6H431.1V339.4H434V340.3H438.7V341.8H443.5V343.6H450.2V345.2H458.3V347.9H462.3V349.9H474.4V352.6H481.1V353.3H489.2V354.3H491.5V355.3H493.3" fill="none" stroke="#c93358" stroke-width="1.25" stroke-linejoin="miter"/>
<path d="M388.4,310.3v1.4M393,311.5v1.4M396.4,314.1v1.4M399.8,318.6v1.4M403.8,321.3v1.4M408.3,324.9v1.4M412.3,327.7v1.4M415.8,330.8v1.4M419.2,332.3v1.4M423.7,334.6v1.4M427.1,336.3v1.4M431.1,338v1.4M434,338.8v1.4M438.7,339.7v1.4M443.5,341.2v1.4M450.2,343v1.4M458.3,344.6v1.4M462.3,347.3v1.4M474.4,349.3v1.4M481.1,352v1.4M489.2,352.7v1.4M491.5,353.7v1.4M493.3,354.4v1.8" stroke="#111" stroke-width="1.1" fill="none"/>
<line x1="430.1" y1="313.3" x2="438.5" y2="313.3" stroke="#5272b0" stroke-width="1.3"/>
<line x1="434.3" y1="311.9" x2="434.3" y2="313.3" stroke="#000" stroke-width="0.9"/>
<line x1="430.1" y1="322.5" x2="438.5" y2="322.5" stroke="#c93358" stroke-width="1.3"/>
<line x1="434.3" y1="321.1" x2="434.3" y2="322.5" stroke="#000" stroke-width="0.9"/>
<text x="445.1" y="315.88" font-size="7.2" textLength="43.3" lengthAdjust="spacingAndGlyphs" fill="#000">&lt;1,200 pg/ml</text>
<text x="445.1" y="324.78" font-size="7.2" textLength="43.3" lengthAdjust="spacingAndGlyphs" fill="#000">&gt;1,200 pg/ml</text>
<text x="452.9" y="336.11" font-size="7.3" textLength="33.7" lengthAdjust="spacingAndGlyphs" fill="#000">p = 0.0008</text>
<rect x="0" y="0" width="520" height="1.2" fill="#000"/>
<rect x="0" y="0" width="1.5" height="439" fill="#111"/>
<rect x="518" y="0" width="2" height="439" fill="#1a1a1a"/>
<rect x="0" y="437" width="520" height="2" fill="#111"/>
</svg>
</body></html>
